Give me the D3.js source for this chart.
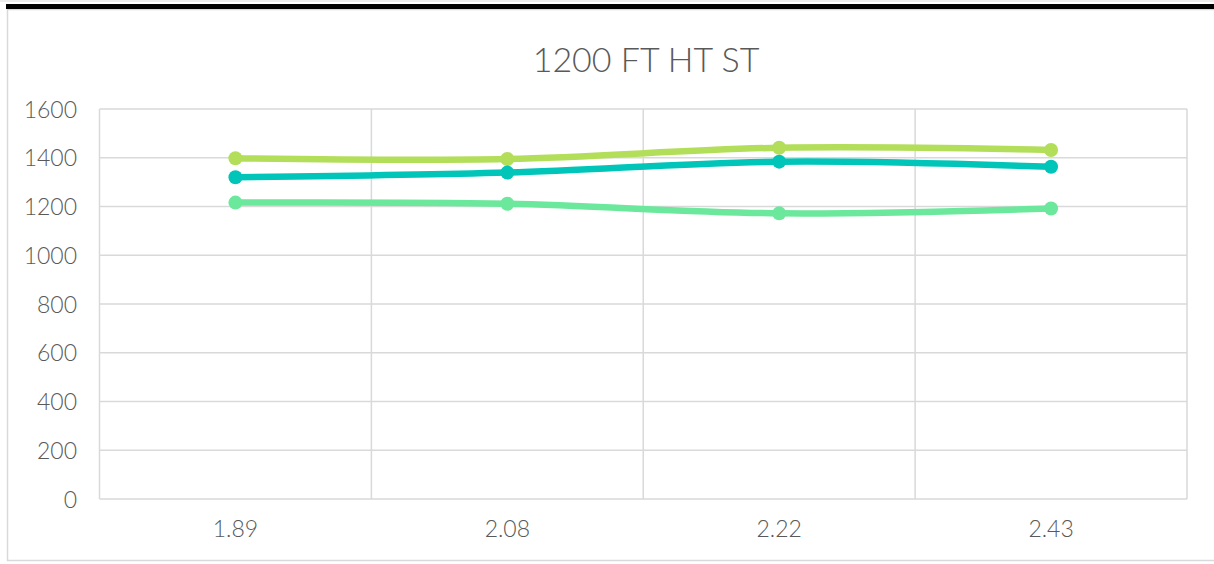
<!DOCTYPE html>
<html>
<head>
<meta charset="utf-8">
<script src="https://cdn.jsdelivr.net/npm/d3@7"></script>
<style>
  html, body { margin: 0; padding: 0; background: #fff; }
  svg { display: block; }
  text { font-family: Lato, "Open Sans", sans-serif; fill: #595959; }
</style>
</head>
<body>
<svg id="chart" width="1214" height="564"></svg>
<script>
// Chart data
const title = "1200 FT HT ST";
const categories = ["1.89", "2.08", "2.22", "2.43"];
const seriesTop = [1398, 1395, 1441, 1432];
const seriesMid = [1320, 1339, 1384, 1363];
const seriesLow = [1216, 1211, 1172, 1192];
const yTicks = [0, 200, 400, 600, 800, 1000, 1200, 1400, 1600];
const seriesColors = ["#B3DE5A", "#00C5B8", "#6BE89C"];

const svg = d3.select("#chart");
const W = 1214, H = 564;
const plot = { left: 99.5, right: 1187, top: 109, bottom: 499 };

// Frame: dark strip along the top and a light outer border
svg.append("rect").attr("x", 0).attr("y", 0).attr("width", W).attr("height", 2).attr("fill", "#ececec");
svg.append("rect").attr("x", 7.5).attr("y", 9.5).attr("width", W).attr("height", 551)
  .attr("fill", "#fff").attr("stroke", "#d9d9d9").attr("stroke-width", 1.5);
svg.append("rect").attr("x", 6).attr("y", 4).attr("width", W).attr("height", 5).attr("fill", "#000");

// Scales
const x = d3.scaleBand().domain(categories).range([plot.left, plot.right]).padding(0);
const y = d3.scaleLinear().domain([0, 1600]).range([plot.bottom, plot.top]);

// Horizontal gridlines
const g = svg.append("g");
g.append("g").selectAll("line").data(yTicks).join("line")
  .attr("x1", plot.left).attr("x2", plot.right)
  .attr("y1", d => y(d)).attr("y2", d => y(d))
  .attr("stroke", "#d9d9d9").attr("stroke-width", 1.5);

// Vertical gridlines at category boundaries
const bounds = categories.map(c => x(c)).concat([plot.right]);
g.append("g").selectAll("line").data(bounds).join("line")
  .attr("x1", d => d).attr("x2", d => d)
  .attr("y1", plot.top).attr("y2", plot.bottom)
  .attr("stroke", "#d9d9d9").attr("stroke-width", 1.5);

// Y axis labels
const yAxis = d3.axisLeft(y).tickValues(yTicks).tickFormat(d3.format("d")).tickSize(0).tickPadding(0);
const ya = svg.append("g").attr("transform", `translate(${77},0)`).call(yAxis);
ya.select(".domain").remove();
ya.selectAll("text").attr("font-size", 23).attr("font-family", "Lato, sans-serif")
  .attr("font-weight", 300).attr("fill", "#595959").attr("dy", "0.35em");

// X axis labels
const xAxis = d3.axisBottom(x).tickSize(0).tickPadding(0);
const xa = svg.append("g").attr("transform", `translate(0,${plot.bottom + 22})`).call(xAxis);
xa.select(".domain").remove();
xa.selectAll("text").attr("font-size", 23).attr("font-family", "Lato, sans-serif")
  .attr("font-weight", 300).attr("fill", "#595959").attr("dy", "0.71em");

// Title
svg.append("text").attr("x", 646).attr("y", 72).attr("text-anchor", "middle")
  .attr("font-size", 34).attr("font-weight", 300).text(title);

// Lines and markers
const allSeries = [seriesTop, seriesMid, seriesLow];
const cx = i => x(categories[i]) + x.bandwidth() / 2;
const line = d3.line().x((d, i) => cx(i)).y(d => y(d)).curve(d3.curveCatmullRom.alpha(0.5));

const lines = svg.append("g");
allSeries.forEach((s, k) => {
  lines.append("path").datum(s).attr("d", line)
    .attr("fill", "none").attr("stroke", seriesColors[k])
    .attr("stroke-width", 6.5).attr("stroke-linecap", "round").attr("stroke-linejoin", "round");
  lines.append("g").selectAll("circle").data(s).join("circle")
    .attr("cx", (d, i) => cx(i)).attr("cy", d => y(d)).attr("r", 7)
    .attr("fill", seriesColors[k]);
});
</script>
</body>
</html>
